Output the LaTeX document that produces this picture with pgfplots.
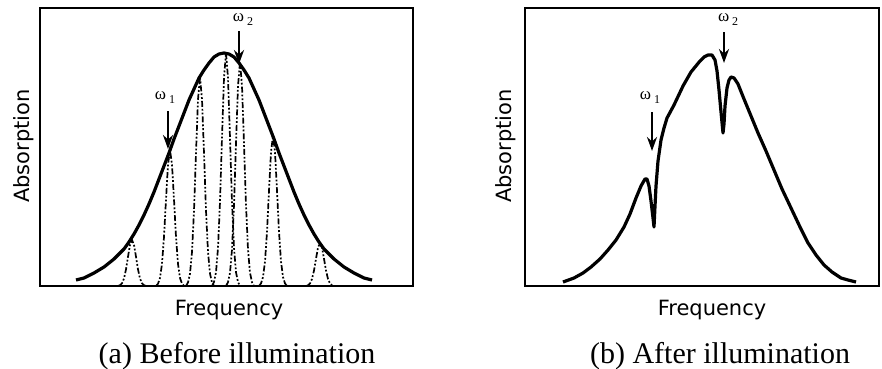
\documentclass[border=0pt]{standalone}
\usepackage{pgfplots}
\pgfplotsset{compat=1.18}
\usepackage{fontspec}
\setmainfont{Liberation Serif}
\newfontfamily\labfont{DejaVu Sans}
\usetikzlibrary{arrows.meta}

\pgfplotsset{
  spec/.style={scale only axis, height=278pt, ymin=0, ymax=278,
    xtick=\empty, ytick=\empty, axis line style={line width=2.6pt},
    clip=false},
  env/.style={black, line width=3.2pt, line join=round},
  narrow/.style={black, line width=1.7pt,
    dash pattern=on 6pt off 2pt on 1.8pt off 2pt on 1.8pt off 2pt},
}
\tikzset{arr/.style={black, line width=2.4pt, -{Stealth[length=14pt,width=10pt]}}}
\newcommand{\om}[1]{{\fontsize{17}{17}\selectfont ω\,\raisebox{-4pt}{\fontsize{12}{12}\selectfont #1}}}

\begin{document}
\begin{tikzpicture}[x=1pt,y=1pt]
\useasboundingbox (0,0) rectangle (882,368);

% ---------------- (a) Before illumination ----------------
\begin{axis}[spec, at={(40pt,82pt)}, anchor=south west, width=373pt,
  xmin=40, xmax=413]
\addplot[env] coordinates {
(76,6) (84,8) (94,13) (104,19) (114,27) (124,37) (129,44) (134,52)
(139,61) (144,71) (149,82) (154,94) (159,107) (164,120) (169,133)
(174,147) (179,160) (184,173) (189,186) (194,197) (199,208) (204,216)
(209,223) (214,229) (219,232) (224,233) (229,232) (234,229) (239,223)
(244,216) (249,208) (254,197) (259,186) (264,173) (269,160) (274,147)
(279,133) (284,120) (289,107) (294,94) (299,82) (304,71) (309,61)
(314,52) (319,44) (324,37) (334,27) (344,19) (354,13) (364,8) (372,6)};
\addplot[narrow] coordinates {
(118,0) (120,0.8) (122,2.7) (124,7.5) (126,16.6) (128,29.3) (130,41.1)
(132,46) (134,41.1) (136,29.3) (138,16.6) (140,7.5) (142,2.7) (144,0.8) (146,0)};
\addplot[narrow] coordinates {
(156,0) (158,2.3) (160,8.0) (162,22.2) (164,49.1) (166,86.5) (168,121.4)
(170,136) (172,121.4) (174,86.5) (176,49.1) (178,22.2) (180,8.0) (182,2.3) (184,0)};
\addplot[narrow] coordinates {
(186,0) (188,3.6) (190,12.3) (192,34.1) (194,75.4) (196,132.9) (198,186.6)
(200,209) (202,186.6) (204,132.9) (206,75.4) (208,34.1) (210,12.3) (212,3.6) (214,0)};
\addplot[narrow] coordinates {
(212,0) (214,4.0) (216,13.7) (218,38.0) (220,84.1) (222,148.2) (224,208.1)
(226,233) (228,208.1) (230,148.2) (232,84.1) (234,38.0) (236,13.7) (238,4.0) (240,0)};
\addplot[narrow] coordinates {
(226,0) (228,3.8) (230,13.2) (232,36.5) (234,80.9) (236,142.5) (238,200.0)
(240,224) (242,200.0) (244,142.5) (246,80.9) (248,36.5) (250,13.2) (252,3.8) (254,0)};
\addplot[narrow] coordinates {
(259,0) (261,2.6) (263,8.9) (265,24.5) (267,54.2) (269,95.4) (271,134.0)
(273,150) (275,134.0) (277,95.4) (279,54.2) (281,24.5) (283,8.9) (285,2.6) (287,0)};
\addplot[narrow] coordinates {
(306,0) (308,0.7) (310,2.5) (312,7.0) (314,15.5) (316,27.3) (318,38.4)
(320,43) (322,38.4) (324,27.3) (326,15.5) (328,7.0) (330,2.5) (332,0.7) (334,0)};
\draw[arr] (axis cs:168,175) -- (axis cs:168,137);
\draw[arr] (axis cs:239,255) -- (axis cs:239,222);
\node at (axis cs:165,188) {\om{1}};
\node at (axis cs:243,266) {\om{2}};
\end{axis}

% ---------------- (b) After illumination ----------------
\begin{axis}[spec, at={(525pt,82pt)}, anchor=south west, width=354pt,
  xmin=525, xmax=879]
\addplot[env] coordinates {
(563,4) (574,8) (583,13) (591,19) (600,27) (608,36) (616,46) (624,59)
(630,72) (636,88) (641,100) (645,107) (647,107) (649,100) (651,85)
(653,68) (654,59) (655,80) (656,100) (658,125) (661,146) (664,158)
(667,168) (674,181) (683,200) (691,214) (700,225) (704,229) (708,231)
(712,231) (715,226) (717,215) (719,196) (721,174) (723,153) (724,162)
(725,180) (727,198) (729,206) (731,209) (734,208) (738,202) (744,187)
(751,170) (758,153) (766,135) (774,116) (782,97) (791,78) (800,59)
(808,43) (816,31) (824,21) (832,14) (841,8) (848,6) (856,4)};
\draw[arr] (axis cs:652,174) -- (axis cs:652,135);
\draw[arr] (axis cs:724,254) -- (axis cs:724,223);
\node at (axis cs:650,188) {\om{1}};
\node at (axis cs:728,266) {\om{2}};
\end{axis}

% ---------------- labels ----------------
\node[rotate=90] at (24,222) {\labfont\fontsize{21}{21}\selectfont Absorption};
\node[rotate=90] at (506,222) {\labfont\fontsize{21}{21}\selectfont Absorption};
\node[anchor=base] at (229,53) {\labfont\fontsize{21}{21}\selectfont Frequency};
\node[anchor=base] at (712,53) {\labfont\fontsize{21}{21}\selectfont Frequency};
\node[anchor=base] at (237,5) {\fontsize{30}{30}\selectfont (a) Before illumination};
\node[anchor=base] at (720,5) {\fontsize{30}{30}\selectfont (b) After illumination};
\end{tikzpicture}
\end{document}
